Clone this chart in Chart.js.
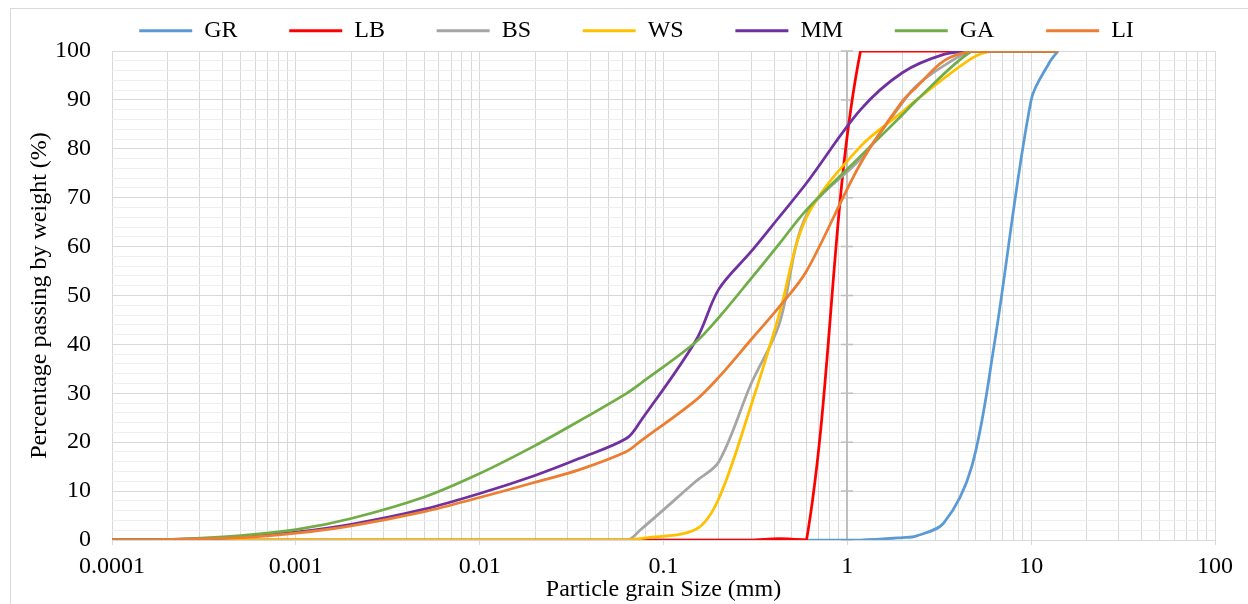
<!DOCTYPE html>
<html>
<head>
<meta charset="utf-8">
<script src="https://cdn.jsdelivr.net/npm/chart.js@4"></script>
<style>
  html, body { margin: 0; padding: 0; background: #fff; }
  #wrap { position: relative; width: 1248px; height: 604px; overflow: hidden; }
  #frame { position: absolute; left: 10px; top: 8px; width: 1300px; height: 700px; border: 1px solid #d9d9d9; box-sizing: border-box; }
  canvas { position: absolute; left: 0; top: 0; }
</style>
</head>
<body>
<div id="wrap">
  <div id="frame"></div>
  <canvas id="psd" width="1248" height="604"></canvas>
</div>
<script>
const FONT = '"Liberation Serif", "Times New Roman", serif';

const seriesNames = ["GR", "LB", "BS", "WS", "MM", "GA", "LI"];
const seriesColors = ["#5b9bd5", "#ff0000", "#a5a5a5", "#ffc000", "#7030a0", "#70ad47", "#ed7d31"];

// particle size (mm) / percent passing
const grSize = [0.0001, 0.6, 1.18, 2, 2.36, 3.35, 4.75, 6.3, 10, 12.5, 14];
const grPass = [0, 0, 0, 0.5, 0.8, 3.5, 15, 40, 90, 97.5, 100];

const lbSize = [0.0001, 0.063, 0.15, 0.3, 0.425, 0.6, 1.18, 2, 4.75, 14];
const lbPass = [0, 0, 0, 0, 0.3, 0, 100, 100, 100, 100];

const bsSize = [0.0001, 0.063, 0.075, 0.15, 0.2, 0.3, 0.425, 0.6, 1.18, 2, 2.36, 3.35, 4.75, 6.3, 10, 14];
const bsPass = [0, 0, 2.1, 12, 16, 32, 44, 66.5, 78, 89.5, 92.8, 97, 100, 100, 100, 100];

const wsSize = [0.0001, 0.063, 0.075, 0.15, 0.2, 0.3, 0.425, 0.6, 1.18, 2, 2.36, 4.75, 6.3, 10, 14];
const wsPass = [0, 0, 0.3, 2.2, 8.5, 27.6, 46, 66, 80.5, 87.6, 89.9, 98.5, 100, 100, 100];

const mmSize = [0.0001, 0.0002, 0.0005, 0.001, 0.002, 0.005, 0.01, 0.02, 0.035, 0.063, 0.075, 0.15, 0.2, 0.3, 0.425, 0.6, 1.18, 2, 3.35, 4.75, 6.3, 10, 14];
const mmPass = [0, 0.1, 0.6, 1.6, 3.2, 6.3, 9.5, 13.2, 16.7, 20.8, 24.3, 40.8, 51.3, 59, 66, 73, 88, 95.6, 99.3, 100, 100, 100, 100];

const gaSize = [0.0001, 0.0002, 0.0005, 0.001, 0.002, 0.005, 0.01, 0.02, 0.035, 0.063, 0.075, 0.15, 0.2, 0.3, 0.425, 0.6, 1.18, 2, 2.36, 4.75, 6.3, 10, 14];
const gaPass = [0, 0.1, 0.9, 2.1, 4.4, 8.8, 13.6, 19.3, 24.4, 30, 32, 40.5, 45.5, 53.5, 60.5, 67.5, 78.5, 87, 89.8, 100, 100, 100, 100];

const liSize = [0.0001, 0.0002, 0.0005, 0.001, 0.002, 0.005, 0.01, 0.02, 0.035, 0.063, 0.075, 0.15, 0.2, 0.3, 0.425, 0.6, 1.18, 2, 2.36, 3.35, 4.75, 6.3, 10, 14];
const liPass = [0, 0.1, 0.5, 1.4, 2.9, 5.8, 8.7, 11.8, 14.4, 18.1, 20.2, 28.6, 33.3, 41, 47.6, 55, 77, 89.8, 92.5, 98, 100, 100, 100, 100];

const xDecades = [0.0001, 0.001, 0.01, 0.1, 1, 10, 100];
const yLabels = [0, 10, 20, 30, 40, 50, 60, 70, 80, 90, 100];
const yCrossAt = 1; // vertical axis sits at 1 mm

function pairs(sizes, pass) {
  return sizes.map((x, i) => ({ x, y: pass[i] }));
}

const seriesData = [
  pairs(grSize, grPass),
  pairs(lbSize, lbPass),
  pairs(bsSize, bsPass),
  pairs(wsSize, wsPass),
  pairs(mmSize, mmPass),
  pairs(gaSize, gaPass),
  pairs(liSize, liPass),
];

// 1..9 per decade
const xTicks = [];
xDecades.forEach((d, i) => {
  xTicks.push(d);
  if (i < xDecades.length - 1) {
    for (let k = 2; k <= 9; k++) xTicks.push(Number((d * k).toPrecision(6)));
  }
});

function isDecade(v) {
  return xDecades.some((d) => Math.abs(d - v) < d * 1e-6);
}

const crossAxis = {
  id: "crossAxis",
  beforeDatasetsDraw(chart) {
    const { ctx, scales: { x, y } } = chart;
    const px = Math.round(x.getPixelForValue(yCrossAt));
    ctx.save();
    ctx.strokeStyle = "#bfbfbf";
    ctx.lineWidth = 2;
    ctx.beginPath();
    ctx.moveTo(px, y.top);
    ctx.lineTo(px, y.bottom);
    ctx.stroke();
    ctx.lineWidth = 1.5;
    ctx.beginPath();
    for (const v of yLabels) {
      const py = y.getPixelForValue(v);
      ctx.moveTo(px - 6, py);
      ctx.lineTo(px + 6, py);
    }
    ctx.stroke();
    ctx.restore();
  },
};

Chart.defaults.font.family = FONT;
Chart.defaults.font.size = 24;
Chart.defaults.color = "#000";

new Chart(document.getElementById("psd"), {
  type: "line",
  data: {
    datasets: seriesNames.map((name, i) => ({
      label: name,
      data: seriesData[i],
      borderColor: seriesColors[i],
      backgroundColor: seriesColors[i],
      borderWidth: 2.75,
      pointRadius: 0,
      pointHoverRadius: 0,
      tension: 0.33,
      order: seriesNames.length - 1 - i,
    })),
  },
  options: {
    responsive: false,
    animation: false,
    layout: { padding: { left: 25, right: 0, top: -33, bottom: 0 } },
    plugins: {
      tooltip: { enabled: false },
      legend: {
        position: "top",
        maxHeight: 84,
        labels: {
          boxWidth: 53,
          boxHeight: 3,
          padding: 51.7,
          color: "#000",
          font: { size: 24, family: FONT },
          generateLabels(chart) {
            const items = Chart.defaults.plugins.legend.labels.generateLabels(chart);
            items.sort((a, b) => a.datasetIndex - b.datasetIndex);
            items.forEach((it) => {
              it.fillStyle = it.strokeStyle;
              it.lineWidth = 0;
            });
            return items;
          },
        },
      },
    },
    scales: {
      x: {
        type: "logarithmic",
        min: 0.0001,
        max: 100,
        afterBuildTicks(s) {
          s.ticks = xTicks.map((value) => ({ value }));
        },
        afterFit(s) {
          s.height = 64;
          s.paddingRight = 33;
        },
        ticks: {
          autoSkip: false,
          maxRotation: 0,
          padding: 7.6,
          color: "#000",
          callback: (v) => (isDecade(v) ? String(v) : ""),
        },
        grid: {
          color: "#d9d9d9",
          lineWidth: 1,
          drawTicks: true,
          tickLength: 5,
          tickColor: (c) => (c.tick && isDecade(c.tick.value) ? "#d9d9d9" : "rgba(0,0,0,0)"),
        },
        border: { color: "#d9d9d9" },
        title: {
          display: true,
          text: "Particle grain Size (mm)",
          color: "#000",
          padding: { top: 0, bottom: 0 },
        },
      },
      y: {
        min: 0,
        max: 100,
        afterFit(s) {
          s.width = 87;
        },
        ticks: {
          stepSize: 2,
          autoSkip: false,
          padding: 21,
          color: "#000",
          callback: (v) => (yLabels.includes(v) ? String(v) : ""),
        },
        grid: {
          drawTicks: false,
          color: (c) => (c.tick && yLabels.includes(c.tick.value) ? "#d9d9d9" : "#efefef"),
        },
        border: { display: false },
        title: {
          display: true,
          text: "Percentage passing by weight (%)",
          color: "#000",
          padding: { top: 0.6, bottom: 0 },
        },
      },
    },
  },
  plugins: [crossAxis],
});
</script>
</body>
</html>
